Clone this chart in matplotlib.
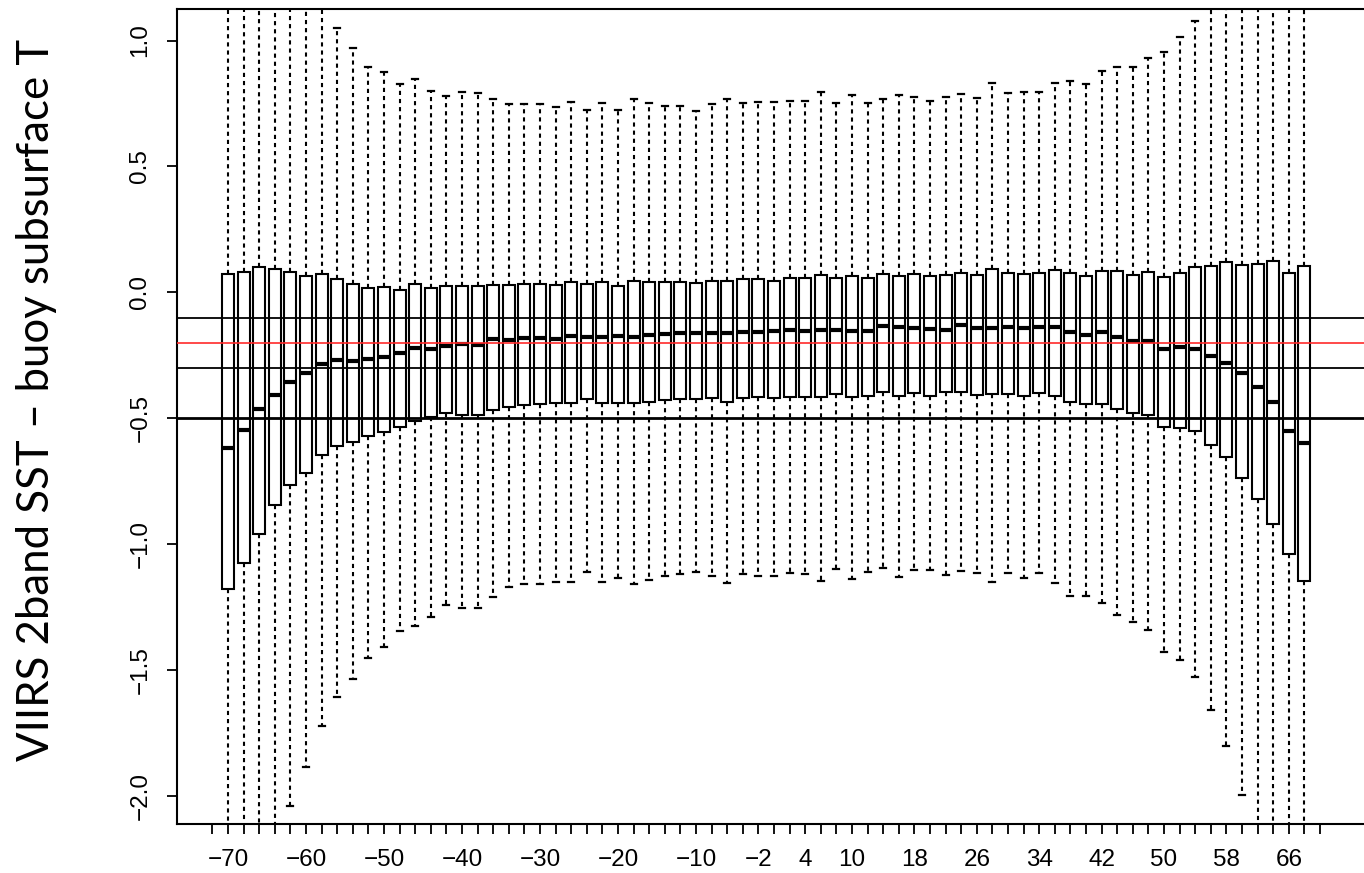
import matplotlib
matplotlib.use("Agg")
import matplotlib.pyplot as plt

# latitude bins (deg), one box per bin
lat_bins = [-70, -68, -66, -64, -62, -60, -58, -56, -54, -52, -50, -48, -46, -44,
            -42, -40, -38, -36, -34, -32, -30, -28, -26, -24, -22, -20, -18, -16,
            -14, -12, -10, -8, -6, -4, -2, 0, 2, 4, 6, 8, 10, 12, 14, 16,
            18, 20, 22, 24, 26, 28, 30, 32, 34, 36, 38, 40, 42, 44, 46, 48,
            50, 52, 54, 56, 58, 60, 62, 64, 66, 68]

# axis ticks run one bin past each end
tick_pos = [-72] + lat_bins + [70]
tick_labels = {-70: "−70", -60: "−60", -50: "−50", -40: "−40", -30: "−30",
               -20: "−20", -10: "−10", -2: "−2", 4: "4", 10: "10", 18: "18",
               26: "26", 34: "34", 42: "42", 50: "50", 58: "58", 66: "66"}

whis_hi = [1.30, 1.30, 1.30, 1.30, 1.30, 1.30, 1.30, 1.048, 0.969, 0.896, 0.876, 0.826, 0.847, 0.801,
           0.781, 0.797, 0.790, 0.768, 0.748, 0.747, 0.747, 0.737, 0.756, 0.724, 0.753, 0.724, 0.767, 0.751,
           0.741, 0.741, 0.721, 0.747, 0.767, 0.753, 0.755, 0.755, 0.760, 0.760, 0.794, 0.753, 0.784, 0.753,
           0.767, 0.784, 0.777, 0.760, 0.777, 0.786, 0.773, 0.833, 0.793, 0.797, 0.797, 0.833, 0.841, 0.826,
           0.879, 0.896, 0.896, 0.932, 0.956, 1.015, 1.077, 1.30, 1.30, 1.30, 1.30, 1.30, 1.30, 1.30]

q3 = [0.072, 0.083, 0.102, 0.092, 0.083, 0.065, 0.072, 0.052, 0.034, 0.017, 0.021, 0.010, 0.032, 0.017,
      0.026, 0.027, 0.026, 0.030, 0.030, 0.032, 0.034, 0.030, 0.040, 0.032, 0.040, 0.027, 0.047, 0.040,
      0.040, 0.040, 0.036, 0.047, 0.047, 0.052, 0.052, 0.047, 0.056, 0.056, 0.069, 0.059, 0.065, 0.056,
      0.073, 0.065, 0.073, 0.065, 0.069, 0.079, 0.068, 0.092, 0.076, 0.072, 0.079, 0.089, 0.076, 0.065,
      0.087, 0.085, 0.069, 0.080, 0.063, 0.079, 0.100, 0.106, 0.120, 0.109, 0.112, 0.125, 0.079, 0.105]

median = [-0.618, -0.546, -0.461, -0.408, -0.354, -0.321, -0.284, -0.268, -0.272, -0.264, -0.255, -0.241, -0.222, -0.224,
          -0.212, -0.206, -0.208, -0.186, -0.188, -0.179, -0.182, -0.184, -0.173, -0.175, -0.175, -0.173, -0.175, -0.169,
          -0.166, -0.159, -0.162, -0.159, -0.162, -0.155, -0.155, -0.151, -0.149, -0.151, -0.149, -0.149, -0.151, -0.152,
          -0.133, -0.138, -0.140, -0.144, -0.149, -0.129, -0.142, -0.140, -0.136, -0.142, -0.136, -0.137, -0.155, -0.169,
          -0.155, -0.178, -0.192, -0.192, -0.226, -0.218, -0.224, -0.251, -0.278, -0.318, -0.376, -0.433, -0.548, -0.599]

q1 = [-1.178, -1.075, -0.958, -0.843, -0.765, -0.715, -0.645, -0.609, -0.595, -0.568, -0.552, -0.532, -0.510, -0.493,
      -0.479, -0.486, -0.486, -0.466, -0.456, -0.446, -0.444, -0.440, -0.437, -0.424, -0.440, -0.437, -0.437, -0.433,
      -0.427, -0.424, -0.424, -0.420, -0.433, -0.417, -0.413, -0.420, -0.413, -0.413, -0.413, -0.403, -0.413, -0.409,
      -0.394, -0.409, -0.400, -0.409, -0.396, -0.394, -0.407, -0.404, -0.404, -0.409, -0.400, -0.409, -0.436, -0.442,
      -0.442, -0.462, -0.479, -0.486, -0.532, -0.536, -0.550, -0.605, -0.651, -0.737, -0.821, -0.919, -1.039, -1.145]

whis_lo = [-2.40, -2.40, -2.40, -2.40, -2.037, -1.882, -1.719, -1.604, -1.534, -1.450, -1.406, -1.343, -1.323, -1.287,
           -1.240, -1.253, -1.253, -1.207, -1.170, -1.158, -1.158, -1.150, -1.148, -1.110, -1.150, -1.134, -1.157, -1.141,
           -1.124, -1.118, -1.110, -1.124, -1.154, -1.117, -1.124, -1.124, -1.112, -1.117, -1.145, -1.098, -1.138, -1.110,
           -1.094, -1.128, -1.101, -1.101, -1.121, -1.104, -1.114, -1.148, -1.114, -1.134, -1.114, -1.154, -1.204, -1.204,
           -1.233, -1.280, -1.306, -1.339, -1.425, -1.460, -1.525, -1.655, -1.800, -1.996, -2.40, -2.40, -2.40, -2.40]

ref_lines = [-0.1, -0.3, -0.5]
ref_mean = -0.2

plt.rcParams["font.family"] = ["Liberation Sans", "DejaVu Sans"]

fig = plt.figure(figsize=(13.64, 8.73), dpi=100)
ax = fig.add_axes([0.1298, 0.0556, 0.882, 0.9338])

stats = []
for i in range(len(lat_bins)):
    stats.append({"med": median[i], "q1": q1[i], "q3": q3[i],
                  "whislo": whis_lo[i], "whishi": whis_hi[i], "fliers": []})

ax.bxp(stats, positions=lat_bins, widths=1.54, capwidths=0.77,
       patch_artist=True, showfliers=False,
       boxprops=dict(facecolor="white", edgecolor="black", linewidth=1.5),
       medianprops=dict(color="black", linewidth=3.0, solid_capstyle="butt"),
       whiskerprops=dict(color="black", linewidth=1.5, linestyle=(0, (2.0, 1.9))),
       capprops=dict(color="black", linewidth=1.6))

for y in ref_lines:
    ax.axhline(y, color="black", linewidth=2.0 if y == -0.5 else 1.3, zorder=5)
ax.axhline(ref_mean, color="#ff2a2a", linewidth=1.2, zorder=5)

ax.set_xlim(-76.53, 77.7)
ax.set_ylim(-2.111, 1.124)

ax.set_xticks(tick_pos)
ax.set_xticklabels([tick_labels.get(p, "") for p in tick_pos])
yt = [-2.0, -1.5, -1.0, -0.5, 0.0, 0.5, 1.0]
ax.set_yticks(yt)
ax.set_yticklabels([f"{v:.1f}".replace("-", "−") for v in yt])
for lab in ax.get_yticklabels():
    lab.set_rotation(90)
    lab.set_va("center")

ax.tick_params(axis="both", direction="out", length=7.5, width=1.3, labelsize=17.5)
ax.tick_params(axis="x", pad=10)
ax.tick_params(axis="y", pad=11)
for sp in ax.spines.values():
    sp.set_linewidth(1.5)

fig.text(0.027, 1 - 400 / 873, "VIIRS 2band SST – buoy subsurface T",
         rotation=90, ha="center", va="center", fontsize=31.5, family=["Lato", "DejaVu Sans"])

fig.savefig("out.png", dpi=100)
